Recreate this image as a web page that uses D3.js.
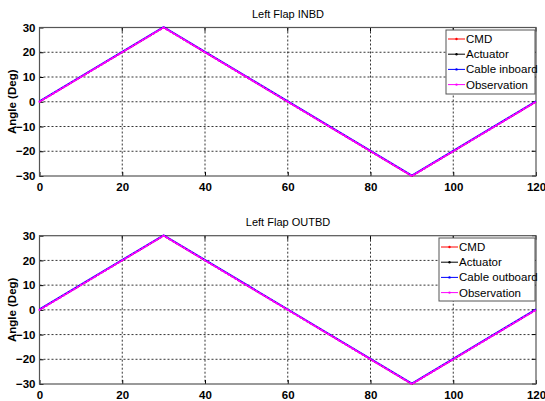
<!DOCTYPE html>
<html><head><meta charset="utf-8">
<script src="https://cdn.jsdelivr.net/npm/d3@7"></script>
<style>body{margin:0;background:#fff}svg{display:block}text{font-family:"Liberation Sans",Arial,sans-serif}</style>
</head><body>
<svg id="c" width="545" height="401"></svg>
<script>
const time = [0, 30, 90, 120];
const cmd = [0, 30, -30, 0];
const actuator = [0, 30, -30, 0];
const cable = [0, 30, -30, 0];
const observation = [0, 30, -30, 0];
const xTicks = [0, 20, 40, 60, 80, 100, 120];
const yTicks = [-30, -20, -10, 0, 10, 20, 30];
const panels = [
  {title: "Left Flap INBD", names: ["CMD", "Actuator", "Cable inboard", "Observation"], top: 27.5, bottom: 176, leg: {x: 446, y: 30, w: 89, h: 64}},
  {title: "Left Flap OUTBD", names: ["CMD", "Actuator", "Cable outboard", "Observation"], top: 235.7, bottom: 384, leg: {x: 439, y: 238, w: 96, h: 63}}
];
const colors = ["#ff0000", "#000000", "#0000ff", "#ff00ff"];
const seriesVals = [cmd, actuator, cable, observation];
const svg = d3.select("#c");
const x = d3.scaleLinear().domain([0, 120]).range([39.5, 536]);
panels.forEach(p => {
  const y = d3.scaleLinear().domain([-30, 30]).range([p.bottom, p.top]);
  const g = svg.append("g");
  g.selectAll(".gx").data(xTicks.slice(1, -1)).enter().append("line")
    .attr("x1", d => x(d)).attr("x2", d => x(d)).attr("y1", p.top).attr("y2", p.bottom)
    .attr("stroke", "#000").attr("stroke-width", 0.8).attr("stroke-dasharray", "2,2");
  g.selectAll(".gy").data(yTicks.slice(1, -1)).enter().append("line")
    .attr("x1", x(0)).attr("x2", x(120)).attr("y1", d => y(d)).attr("y2", d => y(d))
    .attr("stroke", "#000").attr("stroke-width", 0.8).attr("stroke-dasharray", "2,2");
  const xa = g.append("g").attr("transform", `translate(0,${p.bottom})`)
    .call(d3.axisBottom(x).tickValues(xTicks).tickSize(-4).tickPadding(7).tickFormat(d3.format("d")));
  const ya = g.append("g").attr("transform", `translate(${x(0)},0)`)
    .call(d3.axisLeft(y).tickValues(yTicks).tickSize(-4).tickPadding(4).tickFormat(d3.format("d")));
  [xa, ya].forEach(a => {
    a.select(".domain").remove();
    a.selectAll("line").attr("stroke", "#000");
    a.selectAll("text").attr("font-size", 11.5).attr("font-weight", "bold").attr("fill", "#000")
      .attr("font-family", "'Liberation Sans Narrow','Liberation Sans',Arial,sans-serif");
  });
  g.selectAll(".rt").data(yTicks).enter().append("line")
    .attr("x1", x(120) - 4).attr("x2", x(120)).attr("y1", d => y(d)).attr("y2", d => y(d)).attr("stroke", "#000");
  g.selectAll(".tt").data(xTicks).enter().append("line")
    .attr("x1", d => x(d)).attr("x2", d => x(d)).attr("y1", p.top).attr("y2", p.top + 4).attr("stroke", "#000");
  g.append("rect").attr("x", x(0)).attr("y", p.top).attr("width", x(120) - x(0)).attr("height", p.bottom - p.top)
    .attr("fill", "none").attr("stroke", "#555").attr("stroke-width", 1.2);
  const line = d3.line().x((d, i) => x(time[i])).y(d => y(d));
  seriesVals.forEach((vals, k) => {
    g.append("path").datum(vals).attr("d", line).attr("fill", "none")
      .attr("stroke", colors[k]).attr("stroke-width", k === 2 ? 1.6 : 1.1)
      .attr("transform", k === 2 ? "translate(0,-0.6)" : null);
  });
  g.append("path").datum(observation).attr("d", line).attr("fill", "none")
    .attr("stroke", "#ff00ff").attr("stroke-width", 2.1).attr("stroke-dasharray", "1,3").attr("stroke-linecap", "round");
  svg.append("text").attr("x", 288).attr("y", p.top - 10).attr("text-anchor", "middle")
    .attr("font-size", 11).attr("fill", "#000").text(p.title);
  svg.append("text").attr("transform", `translate(16,${(p.top + p.bottom) / 2}) rotate(-90)`)
    .attr("text-anchor", "middle").attr("font-size", 11.5).attr("font-weight", "bold").text("Angle (Deg)");
  const L = p.leg;
  const lg = svg.append("g");
  lg.append("rect").attr("x", L.x).attr("y", L.y).attr("width", L.w).attr("height", L.h)
    .attr("fill", "#fff").attr("stroke", "#555").attr("stroke-width", 1);
  p.names.forEach((n, k) => {
    const yy = L.y + 9 + k * 15.2;
    lg.append("line").attr("x1", L.x + 2).attr("x2", L.x + 19).attr("y1", yy).attr("y2", yy)
      .attr("stroke", colors[k]).attr("stroke-width", 1);
    lg.append("circle").attr("cx", L.x + 10.5).attr("cy", yy).attr("r", 1.2).attr("fill", colors[k]);
    lg.append("text").attr("x", L.x + 20).attr("y", yy + 4).attr("font-size", 11.5).attr("fill", "#000").text(n);
  });
});
</script>
</body></html>
